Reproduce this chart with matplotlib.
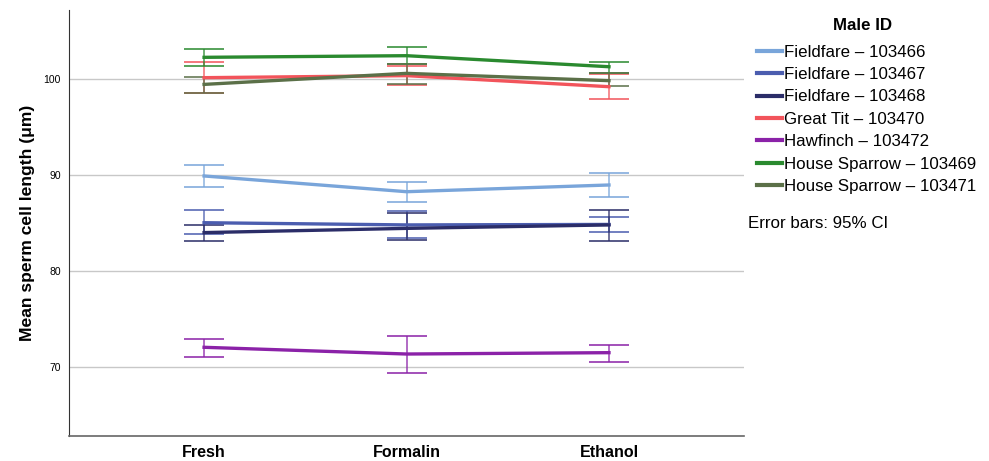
import matplotlib
matplotlib.use("Agg")
import matplotlib.pyplot as plt
import numpy as np

matplotlib.rcParams['font.family'] = ['Liberation Sans', 'DejaVu Sans']

# treatments on the x axis
treatments = ["Fresh", "Formalin", "Ethanol"]

# male IDs (legend order)
males = ["Fieldfare \u2013 103466", "Fieldfare \u2013 103467", "Fieldfare \u2013 103468",
         "Great Tit \u2013 103470", "Hawfinch \u2013 103472",
         "House Sparrow \u2013 103469", "House Sparrow \u2013 103471"]
colors = ["#79a5da", "#4b5daf", "#2b2d68", "#f2545b", "#8b22a8", "#2a8a2f", "#5b7048"]

# mean sperm cell length (um), per male, Fresh / Formalin / Ethanol
means = [
    [89.90, 88.26, 88.96],
    [85.03, 84.80, 84.85],
    [84.00, 84.44, 84.80],
    [100.14, 100.35, 99.20],
    [72.05, 71.35, 71.49],
    [102.26, 102.43, 101.28],
    [99.44, 100.59, 99.83],
]
# 95% CI lower / upper bounds
ci_low = [
    [88.78, 87.22, 87.71],
    [83.82, 83.40, 84.06],
    [83.16, 83.25, 83.13],
    [98.57, 99.38, 97.95],
    [71.07, 69.40, 70.55],
    [101.35, 101.56, 100.66],
    [98.50, 99.48, 99.30],
]
ci_high = [
    [91.04, 89.30, 90.18],
    [86.35, 86.25, 85.66],
    [84.79, 86.00, 86.35],
    [101.80, 101.35, 100.50],
    [72.95, 73.23, 72.32],
    [103.10, 103.37, 101.80],
    [100.24, 101.56, 100.66],
]

fig = plt.figure(figsize=(9.89, 4.61), dpi=100)
ax = fig.add_axes([0.0698, 0.0553, 0.6825, 0.9230])

x = np.arange(len(treatments))
for i in range(len(males)):
    m = np.array(means[i])
    lo = m - np.array(ci_low[i])
    hi = np.array(ci_high[i]) - m
    ax.errorbar(x, m, yerr=[lo, hi], fmt='none', ecolor=colors[i], elinewidth=1.1,
                capsize=14.4, capthick=1.3, alpha=0.85, zorder=2)
for i in range(len(males)):
    ax.plot(x, means[i], color=colors[i], linewidth=2.4, label=males[i], zorder=3)

ax.set_xlim(-0.667, 2.667)
ax.set_ylim(62.86, 107.19)
ax.set_yticks([70, 80, 90, 100])
ax.set_xticks(x)
ax.set_xticklabels(treatments, fontsize=11.5, fontweight='bold')
ax.tick_params(axis='both', length=0)
ax.tick_params(axis='y', labelsize=7.5, pad=6)
ax.tick_params(axis='x', pad=7)
ax.grid(axis='y', color='#c8c8c8', linewidth=1)
ax.set_axisbelow(True)
ax.spines['top'].set_visible(False)
ax.spines['right'].set_visible(False)
ax.spines['left'].set_color('#333333')
ax.spines['bottom'].set_color('#666666')
ax.spines['bottom'].set_linewidth(1.2)
ax.set_ylabel("Mean sperm cell length (\u03bcm)", fontsize=12.6, fontweight='bold', labelpad=6)

# legend title placed on its own
fig.text(863 / 989, 1 - 25 / 461, "Male ID", fontsize=12.2, fontweight='bold',
         ha='center', va='center')
leg = ax.legend(loc='upper left', bbox_to_anchor=(0.7585, 0.918), bbox_transform=fig.transFigure,
                frameon=False, fontsize=12.2, handlelength=1.48,
                handletextpad=0.1, labelspacing=0.44, borderaxespad=0)
for line in leg.get_lines():
    line.set_linewidth(3)

fig.text(0.756, 1 - 223 / 461, "Error bars: 95% CI", fontsize=12.2, ha='left', va='center')

fig.savefig("out.png", dpi=100)
